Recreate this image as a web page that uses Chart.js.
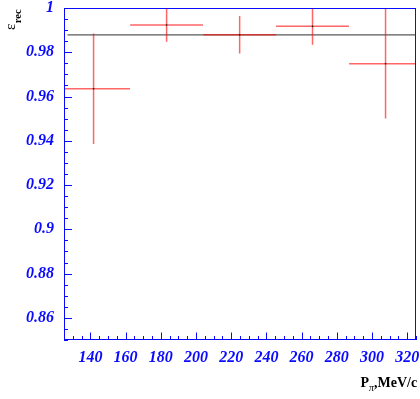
<!DOCTYPE html>
<html>
<head>
<meta charset="utf-8">
<script src="https://cdn.jsdelivr.net/npm/chart.js"></script>
<style>
  body { margin: 0; background: #fff; }
</style>
</head>
<body>
<canvas id="effChart" width="420" height="399"></canvas>
<script>
// Reconstruction efficiency vs pion momentum
const binCenters = [141.8, 183.3, 224.8, 266.2, 307.7];
const binHalfWidths = [20.7, 20.7, 20.7, 20.7, 20.7];
const efficiency = [0.9635, 0.9923, 0.9879, 0.9917, 0.9748];
const effErrors = [0.025, 0.0075, 0.0085, 0.0083, 0.0247];
const meanEff = 0.9879;
const meanRange = [127, 324.8];
const xTicks = [140, 160, 180, 200, 220, 240, 260, 280, 300, 320];
const yTicks = [0.86, 0.88, 0.9, 0.92, 0.94, 0.96, 0.98, 1];

const axisBlue = 'rgb(10,10,255)';
const tickFont = { family: '"Liberation Serif", serif', size: 16, style: 'italic', weight: 'bold', lineHeight: 1 };

// crosses: horizontal bin bar + vertical error bar, broken by gaps
const crossPoints = [];
binCenters.forEach((x, i) => {
    const y = efficiency[i];
    crossPoints.push({ x: x - binHalfWidths[i], y: y }, { x: x + binHalfWidths[i], y: y }, { x: x, y: null });
    crossPoints.push({ x: x, y: y - effErrors[i] }, { x: x, y: y + effErrors[i] }, { x: x, y: null });
});
const centerPoints = binCenters.map((x, i) => ({ x: x, y: efficiency[i] }));
const meanPoints = meanRange.map(x => ({ x: x, y: meanEff }));

// frame, inward ticks and axis titles
const framePlugin = {
    id: 'framePlugin',
    afterDatasetsDraw(chart) {
        const { ctx, chartArea: a, scales } = chart;
        const sx = scales.x, sy = scales.y;
        ctx.save();
        ctx.strokeStyle = axisBlue;
        ctx.lineWidth = 1;
        ctx.strokeRect(a.left + 0.5, a.top + 0.5, a.right - a.left - 1, a.bottom - a.top - 1);
        ctx.beginPath();
        for (let k = 0; k <= 30; k++) {
            const v = sy.min + k * 0.005;
            const major = yTicks.some(t => Math.abs(t - v) < 1e-6);
            const py = Math.round(sy.getPixelForValue(v)) + 0.5;
            ctx.moveTo(a.left, py);
            ctx.lineTo(a.left + (major ? 8 : 4), py);
        }
        for (let k = 0; k <= 40; k++) {
            const v = sx.min + k * 5;
            const major = xTicks.includes(v);
            const px = Math.round(sx.getPixelForValue(v)) + 0.5;
            ctx.moveTo(px, a.bottom);
            ctx.lineTo(px, a.bottom - (major ? 7.5 : 4));
        }
        ctx.stroke();
        ctx.restore();
    },
    afterDraw(chart) {
        const ctx = chart.ctx;
        ctx.save();
        ctx.setTransform(1, 0, 0, 1, 0, 0);
        ctx.fillStyle = '#000';
        ctx.textBaseline = 'alphabetic';
        ctx.textAlign = 'left';
        // y title, reads bottom to top
        ctx.save();
        ctx.translate(15, 30);
        ctx.rotate(-Math.PI / 2);
        ctx.font = '15px "Liberation Serif"';
        ctx.fillText('ε', 0, 0);
        const ew = ctx.measureText('ε').width;
        ctx.font = 'bold 10.5px "Liberation Serif"';
        ctx.fillText('rec', ew + 0.5, 6);
        ctx.restore();
        // x title
        let px = 360.5;
        ctx.font = 'bold 14px "Liberation Serif"';
        ctx.fillText('P', px, 387);
        px += ctx.measureText('P').width;
        ctx.font = 'italic 10px "Liberation Serif"';
        ctx.fillText('π', px, 391);
        px += ctx.measureText('π').width;
        ctx.font = 'bold 14px "Liberation Serif"';
        ctx.fillText(',MeV/c', px, 387);
        ctx.restore();
    }
};

const ctx = document.getElementById('effChart').getContext('2d');
new Chart(ctx, {
    type: 'scatter',
    data: {
        datasets: [
            {
                label: 'centers',
                data: centerPoints,
                pointRadius: 0.8,
                pointBackgroundColor: '#000',
                pointBorderWidth: 0,
                showLine: false
            },
            {
                label: 'crosses',
                data: crossPoints,
                showLine: true,
                spanGaps: false,
                borderColor: 'rgba(255,0,0,0.6)',
                borderWidth: 1.5,
                pointRadius: 0
            },
            {
                label: 'mean',
                data: meanPoints,
                showLine: true,
                borderColor: 'rgba(60,60,60,0.85)',
                borderWidth: 1.3,
                pointRadius: 0
            }
        ]
    },
    options: {
        responsive: false,
        animation: false,
        layout: { padding: { left: 0, top: 8, right: 3, bottom: 0 } },
        plugins: { legend: { display: false }, tooltip: { enabled: false } },
        scales: {
            x: {
                type: 'linear',
                min: 125,
                max: 325,
                afterBuildTicks: s => { s.ticks = xTicks.map(v => ({ value: v })); },
                afterFit: s => { s.height = 59; s.paddingLeft = 0; s.paddingRight = 0; },
                grid: { display: false, drawTicks: false },
                border: { display: false },
                ticks: {
                    color: axisBlue,
                    font: tickFont,
                    padding: 9.5,
                    maxRotation: 0,
                    autoSkip: false,
                    callback: v => String(v)
                }
            },
            y: {
                type: 'linear',
                min: 0.85,
                max: 1,
                afterBuildTicks: s => { s.ticks = yTicks.map(v => ({ value: v })); },
                afterFit: s => { s.width = 64; s.paddingTop = 0; s.paddingBottom = 0; },
                grid: { display: false, drawTicks: true, tickLength: 10 },
                border: { display: false },
                ticks: {
                    color: axisBlue,
                    font: tickFont,
                    padding: 0,
                    autoSkip: false,
                    callback: v => String(Number(v.toFixed(2)))
                }
            }
        }
    },
    plugins: [framePlugin]
});
</script>
</body>
</html>
